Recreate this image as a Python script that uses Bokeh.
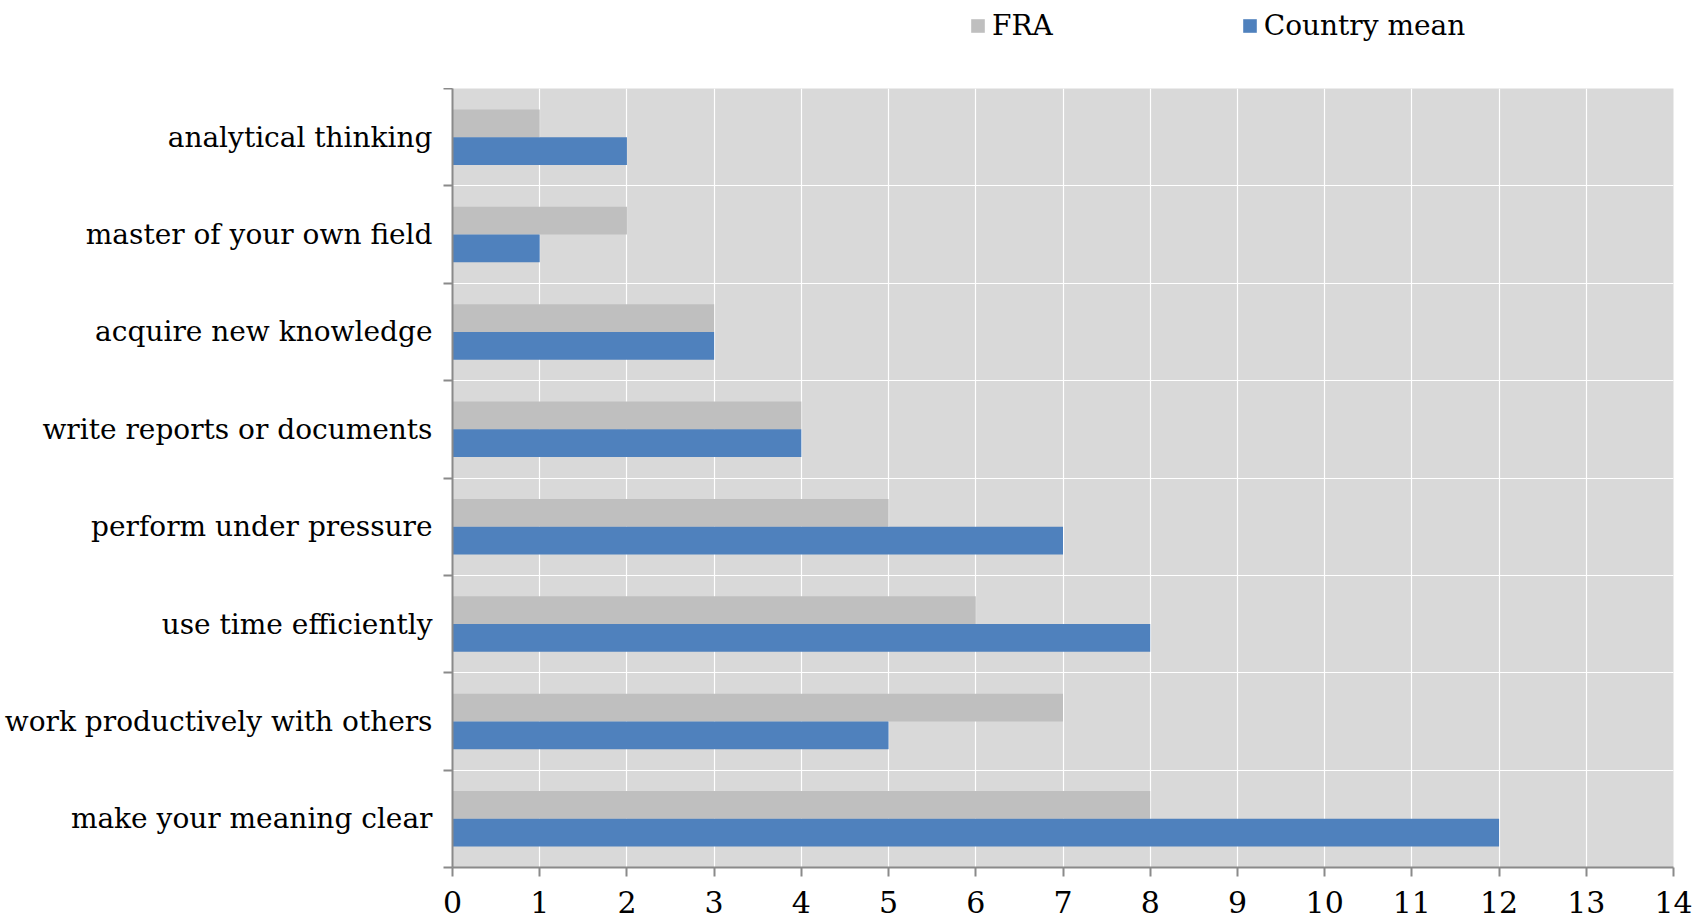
from bokeh.plotting import figure
from bokeh.layouts import column
from bokeh.models import FixedTicker, Legend, LegendItem, ColumnDataSource
from bokeh.embed import file_html
from bokeh.resources import INLINE

categories = [
    "analytical thinking",
    "master of your own field",
    "acquire new knowledge",
    "write reports or documents",
    "perform under pressure",
    "use time efficiently",
    "work productively with others",
    "make your meaning clear",
]
fra = [1, 2, 3, 4, 5, 6, 7, 8]
country_mean = [2, 1, 3, 4, 7, 8, 5, 12]
x_ticks = list(range(0, 15))
series_names = ["FRA", "Country mean"]
series_colors = ["#bfbfbf", "#4f81bd"]

FONT = "DejaVu Serif"
W = 1695
n = len(categories)
centers = [n - 1 - i + 0.5 for i in range(n)]
bar_h = 0.285

src = ColumnDataSource(dict(
    cat=categories,
    fra=fra,
    cm=country_mean,
    y_fra=[c + bar_h / 2 for c in centers],
    y_cm=[c - bar_h / 2 for c in centers],
))

# ---- legend strip on top (same series, drawn out of view; only the legend shows) ----
lf = figure(width=W, height=88, x_range=(0, 14), y_range=(100, 101),
            x_axis_type=None, y_axis_type=None,
            output_backend="svg", toolbar_location=None,
            min_border=0)
lf.outline_line_color = None
lf.grid.visible = False
lr = [lf.hbar(y=col_y, left=0, right=col_v, height=bar_h, source=src,
              fill_color=c, line_color=None)
      for col_y, col_v, c in zip(["y_fra", "y_cm"], ["fra", "cm"], series_colors)]
legend = Legend(items=[LegendItem(label=nm, renderers=[r])
                       for nm, r in zip(series_names, lr)],
                orientation="horizontal", location=(517, 46),
                label_text_font=FONT, label_text_font_size="28px",
                label_text_color="black",
                glyph_width=17, glyph_height=17, label_standoff=6,
                spacing=188, padding=0, margin=0,
                border_line_color=None, background_fill_alpha=0)
lf.add_layout(legend, "center")

# ---- main chart ----
p = figure(width=W, height=834, x_range=(0, 14), y_range=(0, n),
           output_backend="svg", toolbar_location=None,
           min_border_left=452, min_border_right=22, min_border_top=0,
           min_border_bottom=55)
p.background_fill_color = "#d9d9d9"
p.border_fill_color = "white"
p.outline_line_color = None

p.hbar(y="y_fra", left=0, right="fra", height=bar_h, source=src,
       fill_color=series_colors[0], line_color=None)
p.hbar(y="y_cm", left=0, right="cm", height=bar_h, source=src,
       fill_color=series_colors[1], line_color=None)

p.xgrid.ticker = FixedTicker(ticks=x_ticks)
p.xgrid.grid_line_color = "white"
p.xgrid.grid_line_width = 1.2
p.ygrid.ticker = FixedTicker(ticks=list(range(0, n + 1)))
p.ygrid.grid_line_color = "white"
p.ygrid.grid_line_width = 1.2
p.grid.level = "underlay"

axis_color = "#8a8a8a"
xa = p.xaxis[0]
xa.ticker = FixedTicker(ticks=x_ticks)
xa.axis_line_color = axis_color
xa.axis_line_width = 2
xa.major_tick_line_color = axis_color
xa.major_tick_line_width = 2
xa.major_tick_out = 9
xa.major_tick_in = 0
xa.minor_tick_line_color = None
xa.major_label_text_font = FONT
xa.major_label_text_font_size = "30px"
xa.major_label_text_color = "black"
xa.major_label_standoff = 14

ya = p.yaxis[0]
ya.ticker = FixedTicker(ticks=centers, minor_ticks=list(range(0, n + 1)))
ya.major_label_overrides = {c: lab for c, lab in zip(centers, categories)}
ya.axis_line_color = axis_color
ya.axis_line_width = 2
ya.major_tick_line_color = None
ya.minor_tick_line_color = axis_color
ya.minor_tick_line_width = 2
ya.minor_tick_out = 9
ya.minor_tick_in = 0
ya.major_label_text_font = FONT
ya.major_label_text_font_size = "28px"
ya.major_label_text_color = "black"
ya.major_label_standoff = 11

layout = column(lf, p, spacing=0)
open("out.html", "w").write(file_html(layout, INLINE))
